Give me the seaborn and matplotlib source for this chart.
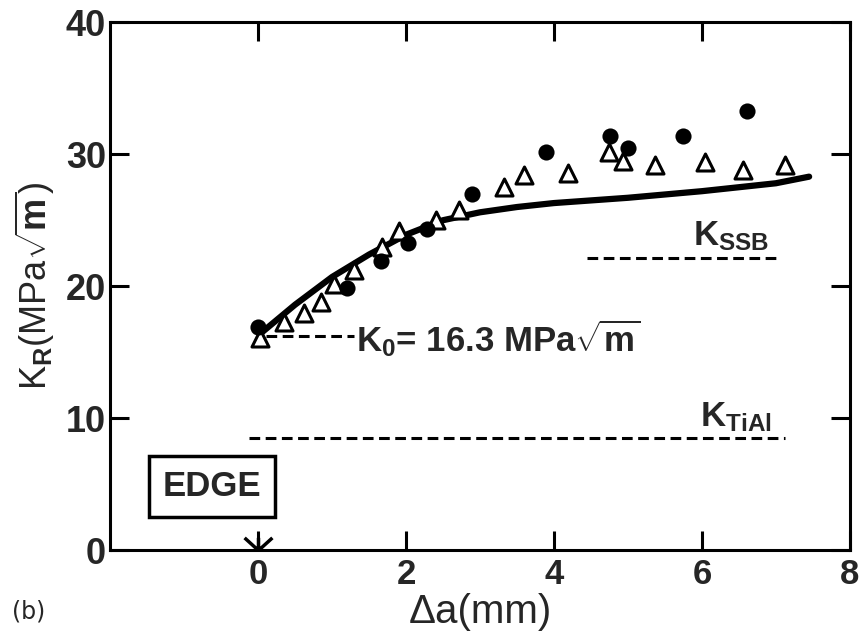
import matplotlib
matplotlib.use("Agg")
import matplotlib.pyplot as plt
import seaborn as sns
import pandas as pd
from matplotlib.path import Path

# ---- data ----
circle_x = [0.0, 1.2, 1.66, 2.03, 2.29, 2.89, 3.89, 4.76, 5.0, 5.75, 6.61]
circle_y = [16.9, 19.9, 21.9, 23.3, 24.3, 27.0, 30.2, 31.4, 30.5, 31.4, 33.3]

tri_x = [0.03, 0.35, 0.62, 0.85, 1.02, 1.29, 1.67, 1.90, 2.41, 2.71, 3.32, 3.59,
         4.19, 4.74, 4.93, 5.37, 6.04, 6.55, 7.12]
tri_y = [16.1, 17.3, 18.0, 18.8, 20.2, 21.2, 23.0, 24.2, 25.0, 25.8, 27.5, 28.4,
         28.6, 30.2, 29.5, 29.2, 29.4, 28.8, 29.2]

curve_x = [0.05, 0.5, 1.0, 1.5, 2.0, 2.5, 3.0, 3.5, 4.0, 5.0, 6.0, 7.0, 7.45]
curve_y = [16.5, 18.6, 20.7, 22.4, 23.9, 25.0, 25.6, 26.0, 26.3, 26.7, 27.2, 27.8, 28.3]

ref_names = ["K0", "KSSB", "KTiAl"]
ref_y = [16.2, 22.1, 8.5]
ref_x0 = [0.1, 4.45, -0.12]
ref_x1 = [1.3, 7.05, 7.12]

edge_x = [0.0]
edge_y = [0.0]

x_ticks = [0, 2, 4, 6, 8]
y_ticks = [0, 10, 20, 30, 40]

# ---- style ----
sns.set_theme(style="ticks")
plt.rcParams["font.family"] = ["Liberation Sans", "DejaVu Sans"]
plt.rcParams["font.weight"] = "bold"
plt.rcParams["mathtext.fontset"] = "custom"
plt.rcParams["mathtext.rm"] = "Liberation Sans:bold"
plt.rcParams["mathtext.it"] = "Liberation Sans:bold"
plt.rcParams["mathtext.bf"] = "Liberation Sans:bold"

fig, ax = plt.subplots(figsize=(8.61, 6.36), dpi=100)
fig.subplots_adjust(left=0.128, right=0.987, top=0.965, bottom=0.135)

df_curve = pd.DataFrame({"x": curve_x, "y": curve_y})
df_circ = pd.DataFrame({"x": circle_x, "y": circle_y})
df_tri = pd.DataFrame({"x": tri_x, "y": tri_y})

sns.lineplot(data=df_curve, x="x", y="y", color="black", linewidth=4.5,
             ax=ax, sort=False, zorder=2)
sns.scatterplot(data=df_tri, x="x", y="y", marker="^", s=150,
                facecolor="white", edgecolor="black", linewidth=2.2,
                ax=ax, zorder=3)
sns.scatterplot(data=df_circ, x="x", y="y", marker="o", s=135,
                color="black", edgecolor="black", linewidth=0,
                ax=ax, zorder=4)

for yv, x0, x1 in zip(ref_y, ref_x0, ref_x1):
    ax.hlines(yv, x0, x1, colors="black", linewidth=2.2,
              linestyles=(0, (3.5, 1.8)), zorder=1)

# crack edge marker
star = Path([(0, 0), (-1.1, 1.0), (0, 0), (0, 1.0), (0, 0), (1.1, 1.0)],
            [Path.MOVETO, Path.LINETO, Path.MOVETO, Path.LINETO,
             Path.MOVETO, Path.LINETO])
ax.plot(edge_x, edge_y, linestyle="none", marker=star, markersize=20,
        markeredgewidth=2.5, markeredgecolor="black",
        markerfacecolor="none", clip_on=False, zorder=5)

# annotations
ax.text(1.33, 16.1, r"K$_0$= 16.3 MPa$\sqrt{\mathrm{m}}$", fontsize=25,
        va="center", ha="left")
ax.text(5.88, 22.5, r"K$_\mathrm{SSB}$", fontsize=25, va="bottom", ha="left")
ax.text(5.98, 8.8, r"K$_\mathrm{TiAl}$", fontsize=25, va="bottom", ha="left")
ax.text(-0.62, 4.85, "EDGE", fontsize=25, va="center", ha="center",
        bbox=dict(boxstyle="square,pad=0.4", facecolor="white",
                  edgecolor="black", linewidth=2.5))

# axes
ax.set_xlim(-2, 8)
ax.set_ylim(0, 40)
ax.set_xticks(x_ticks)
ax.set_yticks(y_ticks)
ax.tick_params(axis="both", direction="in", length=14, width=2.2,
               labelsize=26, top=True, right=True, color="black")
ax.tick_params(axis="x", pad=6, labelsize=25)
ax.tick_params(axis="y", pad=3)
for sp in ax.spines.values():
    sp.set_visible(True)
    sp.set_linewidth(2.2)
    sp.set_color("black")

ax.set_xlabel(r"Δa(mm)", fontsize=29, labelpad=1)
ax.set_ylabel(r"K$_\mathrm{R}$(MPa$\sqrt{\mathrm{m}}$)", fontsize=26, labelpad=6)

fig.text(0.014, 1 - 612 / 636, "(b)", fontsize=17, fontweight="normal",
         family="DejaVu Sans", va="center", ha="left")

fig.savefig("out.png", dpi=100)
